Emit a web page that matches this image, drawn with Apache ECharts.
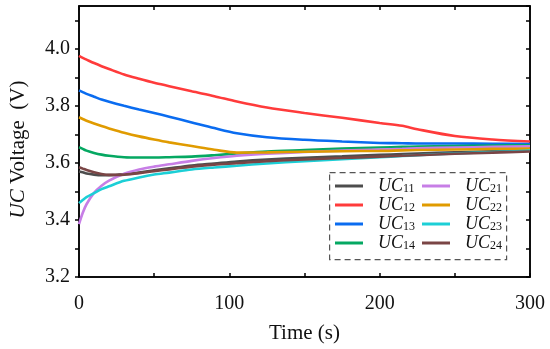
<!DOCTYPE html>
<html>
<head>
<meta charset="utf-8">
<script src="https://cdn.jsdelivr.net/npm/echarts@6/dist/echarts.min.js"></script>
<style>html,body{margin:0;padding:0;background:#fff}#c{width:550px;height:349px}</style>
</head>
<body>
<div id="c"></div>
<script>
const time = [0, 2.5, 5, 10, 15, 20, 30, 40, 50, 60, 75, 90, 105, 125, 150, 175, 200, 215, 225, 250, 275, 300];
const UC11 = [3.570, 3.567, 3.563, 3.559, 3.557, 3.557, 3.560, 3.566, 3.574, 3.581, 3.591, 3.598, 3.605, 3.612, 3.618, 3.623, 3.628, 3.631, 3.633, 3.637, 3.641, 3.645];
const UC12 = [3.975, 3.968, 3.962, 3.950, 3.939, 3.929, 3.910, 3.895, 3.881, 3.869, 3.851, 3.834, 3.815, 3.794, 3.775, 3.758, 3.740, 3.730, 3.718, 3.694, 3.682, 3.675];
const UC13 = [3.854, 3.848, 3.842, 3.832, 3.822, 3.814, 3.800, 3.787, 3.775, 3.762, 3.742, 3.722, 3.704, 3.690, 3.681, 3.675, 3.670, 3.669, 3.668, 3.668, 3.667, 3.666];
const UC14 = [3.655, 3.649, 3.643, 3.635, 3.629, 3.625, 3.620, 3.619, 3.619, 3.620, 3.622, 3.627, 3.633, 3.640, 3.645, 3.650, 3.654, 3.656, 3.657, 3.659, 3.661, 3.662];
const UC21 = [3.385, 3.425, 3.455, 3.495, 3.520, 3.538, 3.562, 3.577, 3.587, 3.595, 3.607, 3.617, 3.625, 3.632, 3.638, 3.643, 3.647, 3.649, 3.651, 3.654, 3.656, 3.658];
const UC22 = [3.760, 3.754, 3.748, 3.738, 3.729, 3.721, 3.706, 3.693, 3.682, 3.672, 3.659, 3.646, 3.636, 3.637, 3.639, 3.641, 3.642, 3.644, 3.645, 3.647, 3.649, 3.650];
const UC23 = [3.459, 3.470, 3.480, 3.494, 3.508, 3.518, 3.537, 3.549, 3.559, 3.566, 3.577, 3.584, 3.590, 3.598, 3.606, 3.613, 3.620, 3.624, 3.627, 3.633, 3.638, 3.643];
const UC24 = [3.585, 3.580, 3.575, 3.567, 3.561, 3.558, 3.559, 3.564, 3.571, 3.577, 3.587, 3.594, 3.599, 3.606, 3.612, 3.617, 3.622, 3.625, 3.627, 3.632, 3.636, 3.640];

const seriesNames = ['UC11', 'UC12', 'UC13', 'UC14', 'UC21', 'UC22', 'UC23', 'UC24'];
const seriesValues = [UC11, UC12, UC13, UC14, UC21, UC22, UC23, UC24];
const seriesColors = ['#4d4d4d', '#ff3b3b', '#0a6cf0', '#05a862', '#c77ee6', '#e09b00', '#1ccfd6', '#7a4545'];

const FONT = '"Liberation Serif", "Times New Roman", serif';

const series = seriesNames.map((n, i) => ({
  name: n,
  type: 'line',
  smooth: 0.3,
  showSymbol: false,
  data: time.map((t, k) => [t, seriesValues[i][k]]),
  lineStyle: { width: 2.6, color: seriesColors[i] },
  itemStyle: { color: seriesColors[i] },
  z: 2
}));
// empty helper series so the mirrored frame axes are laid out
series.push({ name: 'frame', type: 'line', xAxisIndex: 1, yAxisIndex: 1, data: [], silent: true });

const legendText = {
  fontFamily: FONT,
  color: '#111',
  padding: [0, 0, 0, 10],
  rich: {
    a: { fontFamily: FONT, fontStyle: 'italic', fontSize: 18, lineHeight: 18, color: '#111' },
    b: { fontFamily: FONT, fontSize: 12, lineHeight: 10, verticalAlign: 'bottom', color: '#111' }
  }
};
const legendFmt = n => '{a|UC}{b|' + n.slice(2) + '}';

const axisLineStyle = { color: '#000', width: 1.5 };
const tickStyle = { color: '#000', width: 1.5 };

const option = {
  animation: false,
  backgroundColor: '#fff',
  grid: { left: 79, right: 20, top: 6, bottom: 72, show: true, borderColor: '#000', borderWidth: 1.5, backgroundColor: 'transparent' },
  xAxis: [{
    type: 'value', min: 0, max: 300, interval: 50,
    axisLine: { onZero: false, lineStyle: axisLineStyle },
    axisTick: { inside: true, length: 4, lineStyle: tickStyle },
    axisLabel: {
      fontFamily: FONT, fontSize: 20, color: '#111', margin: 17,
      formatter: v => (Math.round(v) % 100 === 0 ? String(Math.round(v)) : '')
    },
    splitLine: { show: false },
    name: 'Time (s)', nameLocation: 'middle', nameGap: 46,
    nameTextStyle: { fontFamily: FONT, fontSize: 21, color: '#111' }
  }, {
    type: 'value', position: 'top', min: 0, max: 300, interval: 50,
    axisLine: { show: true, onZero: false, lineStyle: axisLineStyle },
    axisTick: { show: true, inside: true, length: 4, lineStyle: tickStyle },
    axisLabel: { show: false }, splitLine: { show: false }
  }],
  yAxis: [{
    type: 'value', min: 3.2, max: 4.15, interval: 0.1,
    axisLine: { onZero: false, lineStyle: axisLineStyle },
    axisTick: { inside: false, length: 4, lineStyle: tickStyle },
    axisLabel: {
      fontFamily: FONT, fontSize: 20, color: '#111', margin: 9, showMaxLabel: false,
      formatter: v => { const k = Math.round(v * 10); return (k % 2 === 0 && k <= 40) ? (k / 10).toFixed(1) : ''; }
    },
    splitLine: { show: false },
    name: '{i|UC} Voltage  (V)', nameLocation: 'middle', nameGap: 50,
    nameTextStyle: {
      fontFamily: FONT, fontSize: 21, color: '#111', padding: [0, 16, 0, 0],
      rich: { i: { fontFamily: FONT, fontStyle: 'italic', fontSize: 21, color: '#111' } }
    }
  }, {
    type: 'value', position: 'right', min: 3.2, max: 4.15, interval: 0.1,
    axisLine: { show: true, onZero: false, lineStyle: axisLineStyle },
    axisTick: { show: true, inside: true, length: 4, lineStyle: tickStyle },
    axisLabel: { show: false }, splitLine: { show: false }
  }],
  legend: [{
    data: seriesNames.slice(0, 4), orient: 'vertical', left: 335, top: 177, padding: 0,
    itemWidth: 28, itemHeight: 3, itemGap: 1, icon: 'rect',
    textStyle: legendText, formatter: legendFmt
  }, {
    data: seriesNames.slice(4), orient: 'vertical', left: 422, top: 177, padding: 0,
    itemWidth: 28, itemHeight: 3, itemGap: 1, icon: 'rect',
    textStyle: legendText, formatter: legendFmt
  }],
  graphic: [{
    type: 'rect', left: 329, top: 172, z: 100, silent: true,
    shape: { width: 177, height: 87 },
    style: { fill: 'rgba(255,255,255,0)', stroke: '#555', lineWidth: 1.2, lineDash: [6, 4] }
  }],
  series: series
};

const chart = echarts.init(document.getElementById('c'), null, { renderer: 'canvas' });
chart.setOption(option);
</script>
</body>
</html>
